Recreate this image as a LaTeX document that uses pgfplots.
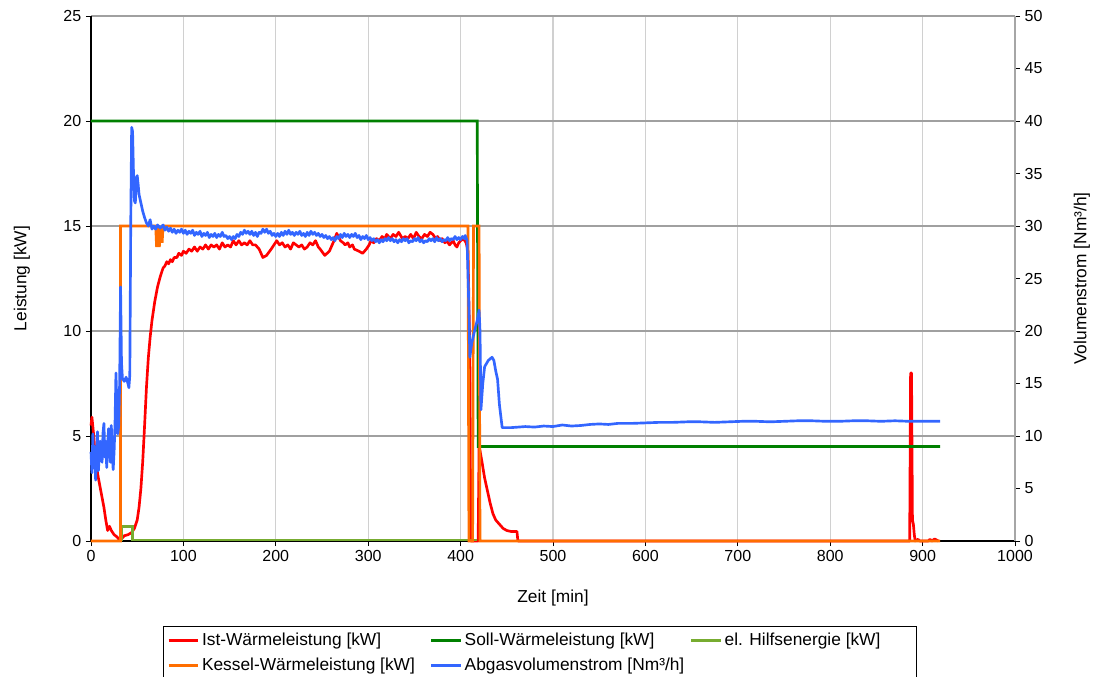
\documentclass[border=0pt]{standalone}
\usepackage{pgfplots}
\pgfplotsset{compat=1.18}
\usepackage{fontspec}
\setmainfont{Liberation Sans}
\newcommand\lf{\fontsize{13}{15}\selectfont}
\usetikzlibrary{calc}
\definecolor{cRed}{RGB}{255,0,0}
\definecolor{cDGreen}{RGB}{0,128,0}
\definecolor{cLGreen}{RGB}{119,172,48}
\definecolor{cOrange}{RGB}{255,110,0}
\definecolor{cBlue}{RGB}{51,102,255}
\definecolor{gridH}{RGB}{160,160,160}
\definecolor{gridV}{RGB}{208,208,208}
\begin{document}
\begin{tikzpicture}
\pgfplotsset{
  every axis/.append style={
    scale only axis, width=693pt, height=393.75pt,
    xmin=0, xmax=1000, clip=false,
    tick align=outside, major tick length=3.75pt,
    /pgf/number format/assume math mode=true,
    /pgf/number format/1000 sep={},
    ticklabel style={font=\fontsize{12}{14}\selectfont},
    label style={font=\fontsize{13}{15}\selectfont},
    tick style={black, line width=0.6pt},
  },
}
\begin{axis}[
  name=ax,
  axis x line*=bottom, axis y line*=left,
  axis line style={black, line width=0.9pt},
  ymin=0, ymax=25,
  xtick={0,100,...,1000}, ytick={0,5,...,25},
  grid=major,
  x grid style={gridV, line width=0.9pt},
  y grid style={gridH, line width=0.9pt},
  xlabel={Zeit [min]}, ylabel={Leistung [kW]},
  xlabel style={at={(axis description cs:0.5,-0.1086)}, anchor=center},
  ylabel style={at={(axis description cs:-0.0747,0.5)}, anchor=center},
  legend columns=3,
  legend style={at={(axis description cs:0.0779,-0.1619)}, anchor=north west,
    draw=black, line width=0.6pt, inner xsep=3pt, inner ysep=1pt,
    column sep=0pt, row sep=0pt,
    nodes={inner sep=2pt, minimum height=18.75pt}},
  legend cell align=left,
  legend image code/.code={\draw[#1, line width=2pt] (0pt,0pt) -- (22pt,0pt);},
]
\addplot[cRed, line width=2pt, line join=round] coordinates {
(0,5.5)(1,5.9)(3,5.0)(5,3.8)(8,3.0)(11,2.3)(14,1.6)(16,1.0)(18,0.5)(20,0.7)(22,0.5)(25,0.3)(28,0.2)(31,0.05)(33,0.1)(36,0.25)(40,0.3)(44,0.4)(47,0.6)(50,1.0)(52,1.6)(54,2.5)(56,3.8)(58,5.5)(60,7.3)(62,8.7)(64,9.7)(66,10.5)(69,11.4)(72,12.1)(75,12.6)(78,13.0)(80,13.1)(82,13.3)(84,13.2)(86,13.4)(88,13.3)(90,13.5)(93,13.5)(95,13.7)(98,13.6)(100,13.8)(103,13.7)(106,13.9)(109,13.8)(112,14.0)(115,13.8)(118,14.0)(121,13.9)(124,14.1)(127,13.9)(130,14.1)(133,14.0)(136,14.1)(139,13.9)(142,14.2)(145,14.0)(148,14.1)(151,14.0)(154,14.3)(157,14.1)(160,14.3)(163,14.1)(166,14.2)(169,14.1)(172,14.3)(175,14.1)(178,14.1)(182,13.9)(186,13.5)(190,13.6)(195,13.9)(198,14.1)(201,14.3)(204,14.1)(207,14.2)(210,14.0)(213,14.1)(216,13.9)(219,14.2)(222,14.1)(225,14.0)(228,14.1)(231,13.9)(234,14.0)(237,14.2)(240,14.1)(243,14.3)(246,14.0)(248,13.9)(253,13.6)(258,13.8)(263,14.3)(266,14.65)(270,14.3)(273,14.2)(275,14.1)(278,14.2)(280,14.0)(283,14.1)(285,13.9)(290,13.8)(294,13.7)(298,13.9)(301,14.1)(303,14.3)(306,14.2)(309,14.4)(312,14.3)(315,14.5)(318,14.4)(320,14.6)(324,14.4)(327,14.6)(330,14.5)(333,14.7)(337,14.4)(340,14.5)(343,14.4)(346,14.6)(349,14.4)(352,14.7)(355,14.5)(358,14.4)(361,14.6)(364,14.5)(367,14.7)(370,14.6)(373,14.4)(375,14.5)(378,14.3)(380,14.4)(383,14.2)(385,14.3)(388,14.1)(392,14.3)(394,14.1)(396,14.0)(398,14.2)(400,14.3)(403,14.4)(406,14.2)(408,13.8)(410,9)(411,0)(419,0)(420,4.5)(421,4.3)(423,3.8)(426,3.0)(429,2.4)(432,1.8)(435,1.3)(438,1.0)(442,0.8)(446,0.6)(450,0.5)(455,0.45)(461,0.45)(462,0)(886,0)(887,8.0)(888,8.0)(889,1.0)(890,0.8)(891,0.3)(892,0)(895,0.08)(897,0)(906,0)(908,0.08)(910,0)(913,0.1)(915,0.05)(917,0)
};
\addlegendentry{\lf\makebox[169pt][l]{Ist-Wärmeleistung [kW]}}
\addplot[cDGreen, line width=2pt] coordinates {
(0,20)(418,20)(419,4.5)(919,4.5)
};
\addlegendentry{\lf\makebox[167pt][l]{Soll-Wärmeleistung [kW]}}
\addplot[cLGreen, line width=2pt] coordinates {
(33,0)(33,0.7)(45,0.7)(45,0.05)(418,0.05)
};
\addlegendentry{\lf\makebox[139pt][l]{el. Hilfsenergie [kW]}}
\addplot[cOrange, line width=2pt] coordinates {
(0,0)(32,0)(32,15)(70,15)(71,14)(72,15)(74,14)(75,15)(77,14.2)(78,15)(408,15)(409,0)(413,0)(414,15)(420,15)(421,0)(919,0)
};
\addlegendentry{\lf\makebox[169pt][l]{Kessel-Wärmeleistung [kW]}}
\addlegendimage{cBlue}
\addlegendentry{\lf\makebox[167pt][l]{Abgasvolumenstrom [Nm³/h]}}
\end{axis}
\begin{axis}[
  axis x line=none, axis y line*=right,
  axis line style={gray!70, line width=0.9pt},
  ymin=0, ymax=50, ytick={0,5,...,50},
  ylabel={Volumenstrom [Nm³/h]},
  ylabel style={at={(axis description cs:1.0725,0.5)}, anchor=center},
]
\addplot[cBlue, line width=2pt, line join=round] coordinates {
(0,8.5)(1,6.5)(2,10.2)(3,7.0)(4,9.0)(5,5.8)(6,7.8)(7,10.4)(8,6.7)(9,8.2)(10,9.5)(11,7.9)(12,7.5)(13,10.3)(14,11.2)(15,8.0)(16,9.5)(17,7.0)(18,9.0)(19,10.7)(20,8.6)(21,7.5)(22,11.0)(23,8.2)(24,6.8)(25,8.5)(26,11.2)(27,16.0)(28,13.0)(29,10.2)(30,11.0)(31,15.0)(32,24.2)(33,17.0)(34,15.5)(36,15.2)(38,15.6)(40,15.0)(41,14.6)(42,15.8)(43,30.0)(44,39.4)(45,39.0)(46,35.0)(47,32.4)(48,32.2)(49,34.6)(50,34.8)(51,34.0)(52,33.0)(54,32.2)(56,31.4)(58,30.8)(60,30.3)(62,30.0)(64,30.6)(66,29.7)(68,30.0)(70,29.7)(72,30.1)(75,29.8)
(78,30.1)(80,29.6)(82,29.9)(84,29.5)(86,29.8)(88,29.4)(90,29.7)(92,29.3)(94,29.6)(96,29.4)(98,29.7)(100,29.3)(102,29.6)(104,29.2)(106,29.5)(108,29.3)(110,29.6)(112,29.1)(114,29.4)(116,29.2)(118,29.5)(120,29.0)(122,29.3)(124,29.1)(126,29.4)(128,28.9)(130,29.2)(132,29.0)(134,29.3)(136,28.9)(138,29.2)(140,29.0)(142,29.4)(144,29.0)(146,29.1)(148,28.8)(150,29.0)(152,28.7)(154,29.0)(156,28.8)(158,29.2)(160,29.0)(162,29.4)(164,29.2)(166,29.6)(168,29.3)(170,29.5)(172,29.2)(174,29.5)(176,29.1)(178,29.4)(180,29.0)(182,29.4)(184,29.3)(186,29.7)(188,29.4)(190,29.7)(192,29.3)(194,29.5)(196,29.1)(198,29.3)(200,29.0)(202,29.3)(204,29.0)(206,29.4)(208,29.1)(210,29.5)(212,29.2)(214,29.6)(216,29.2)(218,29.4)(220,29.1)(222,29.4)(224,29.2)(226,29.5)(228,29.1)(230,29.3)(232,29.0)(234,29.4)(236,29.1)(238,29.5)(240,29.2)(242,29.4)(244,29.1)(246,29.3)(248,29.0)(250,29.2)(252,28.9)(254,29.1)(256,28.8)(258,29.0)(260,28.7)(262,28.9)(264,28.6)(266,29.0)(268,28.8)(270,29.2)(272,28.9)(274,29.3)(276,29.0)(278,29.2)(280,28.9)(282,29.2)(284,29.0)(286,29.3)(288,28.9)(290,29.1)(292,28.7)(294,29.0)(296,28.8)(298,29.1)(300,28.7)(302,28.9)(304,28.6)(306,28.8)(308,28.5)(310,28.7)(312,28.4)(314,28.7)(316,28.5)(318,28.8)(320,28.6)(322,28.9)(324,28.6)(326,28.8)(328,28.5)(330,28.7)(332,28.4)(334,28.7)(336,28.5)(338,28.8)(340,28.6)(342,28.8)(344,28.4)(346,28.6)(348,28.5)(350,28.8)(352,28.6)(354,28.9)(356,28.5)(358,28.7)(360,28.4)(362,28.6)(364,28.5)(366,28.8)(368,28.6)(370,28.8)(372,28.5)(374,28.9)(376,28.6)(378,28.8)(380,28.5)(382,28.7)(384,28.6)(386,28.9)(388,28.6)(390,28.8)(392,28.7)(394,29.0)(396,28.7)(398,28.9)(400,28.7)(402,29.0)(404,28.8)(405,29.1)
(407,28.6)(409,22.0)(410,17.5)(412,18.8)(415,20.0)(418,21.0)(420,22.0)(421,20.0)(422,12.5)(424,15.0)(426,16.6)(430,17.2)(434,17.5)(436,17.2)(438,16.2)(440,15.4)(442,13.0)(445,10.8)(455,10.8)(470,10.9)(480,10.85)(490,10.95)(500,10.9)(510,11.05)(520,10.95)(530,11.0)(540,11.1)(550,11.15)(560,11.1)(570,11.2)(585,11.2)(600,11.25)(615,11.3)(630,11.3)(645,11.35)(660,11.35)(675,11.3)(690,11.35)(705,11.4)(720,11.4)(735,11.35)(750,11.4)(765,11.45)(780,11.45)(795,11.4)(810,11.4)(825,11.45)(840,11.45)(855,11.4)(870,11.45)(885,11.4)(900,11.4)(919,11.4)
};
\end{axis}
\pgfresetboundingbox
\path ($(ax.south west)+(-68.25pt,-101.25pt)$) rectangle ($(ax.south west)+(752.25pt,405.75pt)$);
\end{tikzpicture}
\end{document}
